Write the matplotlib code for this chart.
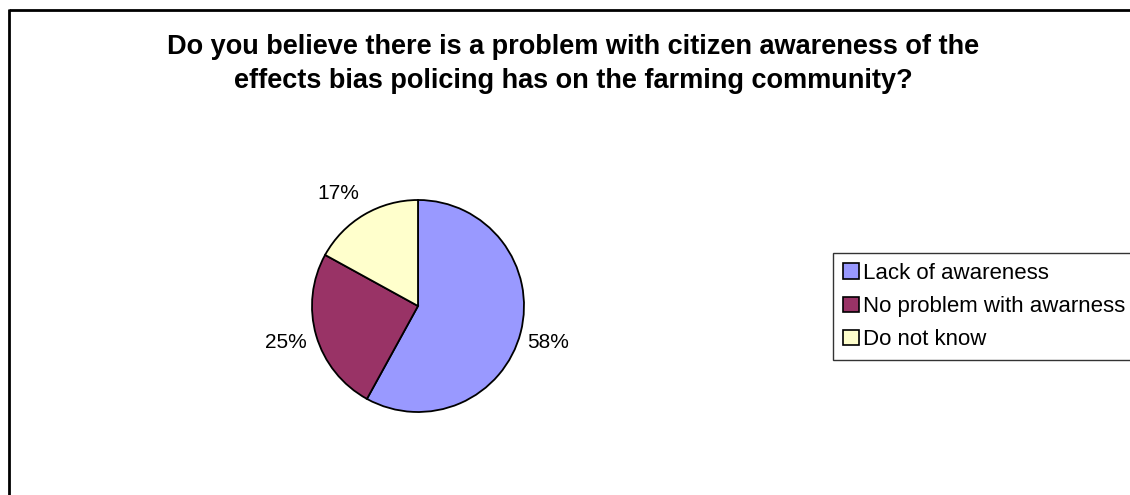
import numpy as np
import matplotlib
matplotlib.use('Agg')
import matplotlib.pyplot as plt
from matplotlib.lines import Line2D
from matplotlib.patches import Patch

labels = ['Lack of awareness', 'No problem with awarness', 'Do not know']
values = [58, 25, 17]
colors = ['#9999FF', '#993366', '#FFFFCC']
title = ('Do you believe there is a problem with citizen awareness of the\n'
         'effects bias policing has on the farming community?')

plt.rcParams['font.family'] = ['Liberation Sans', 'DejaVu Sans']

W, H = 1130, 495
fig = plt.figure(figsize=(W / 100, H / 100), dpi=100)
fig.patch.set_facecolor('white')

# outer chart border (left and top edges only visible)
fig.add_artist(Line2D([8.5 / W, 8.5 / W], [0, 1 - 9 / H], transform=fig.transFigure,
                      color='black', lw=2, solid_capstyle='butt'))
fig.add_artist(Line2D([8.5 / W, 1], [1 - 9.5 / H, 1 - 9.5 / H], transform=fig.transFigure,
                      color='black', lw=2, solid_capstyle='butt'))

fig.text(573 / W, 1 - 64 / H, title, ha='center', va='center', fontsize=19.5,
         fontweight='bold', linespacing=1.45)

# pie: center (418, 306) px, radius 106 px
cx, cy, r = 418, 306, 106
ax = fig.add_axes([(cx - r) / W, (H - cy - r) / H, 2 * r / W, 2 * r / H])
wedges, texts = ax.pie(values, colors=colors, startangle=90, counterclock=False,
                       labels=[f'{v}%' for v in values], labeldistance=1.2,
                       wedgeprops=dict(edgecolor='black', linewidth=1.3),
                       textprops=dict(fontsize=15))
# Excel-style best-fit label placement
label_pos = [(1.23, -0.34), (-1.25, -0.34), (-0.75, 1.06)]
for t, p in zip(texts, label_pos):
    t.set_position(p)
    t.set_ha('center')
    t.set_va('center')
ax.set_xlim(-1, 1)
ax.set_ylim(-1, 1)
ax.set_aspect('equal')
ax.set_axis_off()

handles = [Patch(facecolor=c, edgecolor='black', linewidth=1.2) for c in colors]
leg = fig.legend(handles, labels, loc='upper left',
                 bbox_to_anchor=(833 / W, 1 - 253 / H), bbox_transform=fig.transFigure,
                 frameon=True, fancybox=False, fontsize=16, handlelength=0.7,
                 handleheight=0.7, handletextpad=0.2, labelspacing=0.55,
                 borderpad=0.45, borderaxespad=0)
leg.get_frame().set_edgecolor('black')
leg.get_frame().set_linewidth(1)

fig.savefig('out.png', dpi=100)
